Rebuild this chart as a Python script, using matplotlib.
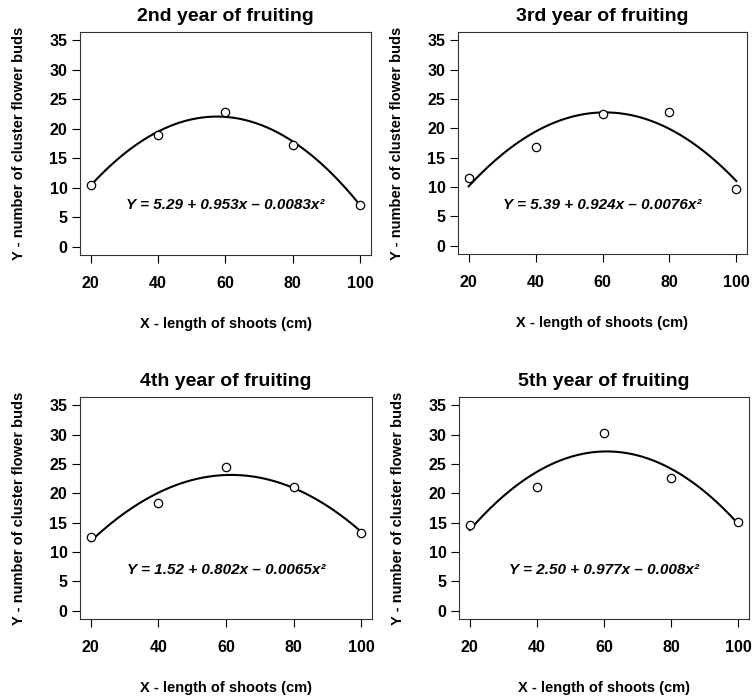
import numpy as np
import matplotlib
matplotlib.use("Agg")
import matplotlib.pyplot as plt

plt.rcParams['font.family'] = ['Liberation Sans', 'DejaVu Sans']

x_len = [20, 40, 60, 80, 100]
y_year2 = [10.55, 18.94, 22.86, 17.3, 7.15]
y_year3 = [11.46, 16.85, 22.52, 22.75, 9.64]
y_year4 = [12.56, 18.3, 24.4, 21.0, 13.2]
y_year5 = [14.55, 21.0, 30.3, 22.6, 15.05]

titles = ["2nd year of fruiting", "3rd year of fruiting",
          "4th year of fruiting", "5th year of fruiting"]
equations = ["Y = 5.29 + 0.953x \u2013 0.0083x\u00b2",
             "Y = 5.39 + 0.924x \u2013 0.0076x\u00b2",
             "Y = 1.52 + 0.802x \u2013 0.0065x\u00b2",
             "Y = 2.50 + 0.977x \u2013 0.008x\u00b2"]
series = [y_year2, y_year3, y_year4, y_year5]
xticks = [20, 40, 60, 80, 100]
yticks = [0, 5, 10, 15, 20, 25, 30, 35]

W, H = 754, 697
fig = plt.figure(figsize=(W / 100, H / 100), dpi=100)

# boxes in pixels: left, right, top, bottom
boxes = [(80, 371, 32, 255), (458, 747, 32, 254),
         (80, 372, 397, 619), (459, 749, 397, 619)]

for (l, r, t, b), ys, title, eq in zip(boxes, series, titles, equations):
    ax = fig.add_axes([l / W, 1 - b / H, (r - l) / W, (b - t) / H])
    xs = np.array(x_len, dtype=float)
    coef = np.polyfit(xs, np.array(ys), 2)
    xf = np.linspace(20, 100, 200)
    ax.plot(xf, np.polyval(coef, xf), color='black', lw=1.5)
    ax.plot(xs, ys, 'o', mfc='white', mec='black', ms=6, mew=0.9)
    ax.set_xlim(16.8, 103.2)
    ax.set_ylim(-1.4, 36.4)
    ax.set_xticks(xticks)
    ax.set_yticks(yticks)
    ax.tick_params(direction='out', length=6, width=0.8, labelsize=11.5)
    for lab in ax.get_xticklabels() + ax.get_yticklabels():
        lab.set_fontweight('bold')
    ax.tick_params(axis='x', pad=9)
    ax.tick_params(axis='y', pad=3)
    for sp in ax.spines.values():
        sp.set_linewidth(0.8)
        sp.set_color('#333333')
    ax.set_title(title, fontsize=14, fontweight='bold', pad=8)
    ax.set_xlabel("X - length of shoots (cm)", fontsize=10.5, fontweight='bold', labelpad=19)
    ax.set_ylabel("Y - number of cluster flower buds", fontsize=10.5, fontweight='bold', labelpad=17)
    ax.text(60, 7, eq, ha='center', va='center', fontsize=11,
            fontweight='bold', fontstyle='italic')

fig.savefig("out.png", dpi=100)
